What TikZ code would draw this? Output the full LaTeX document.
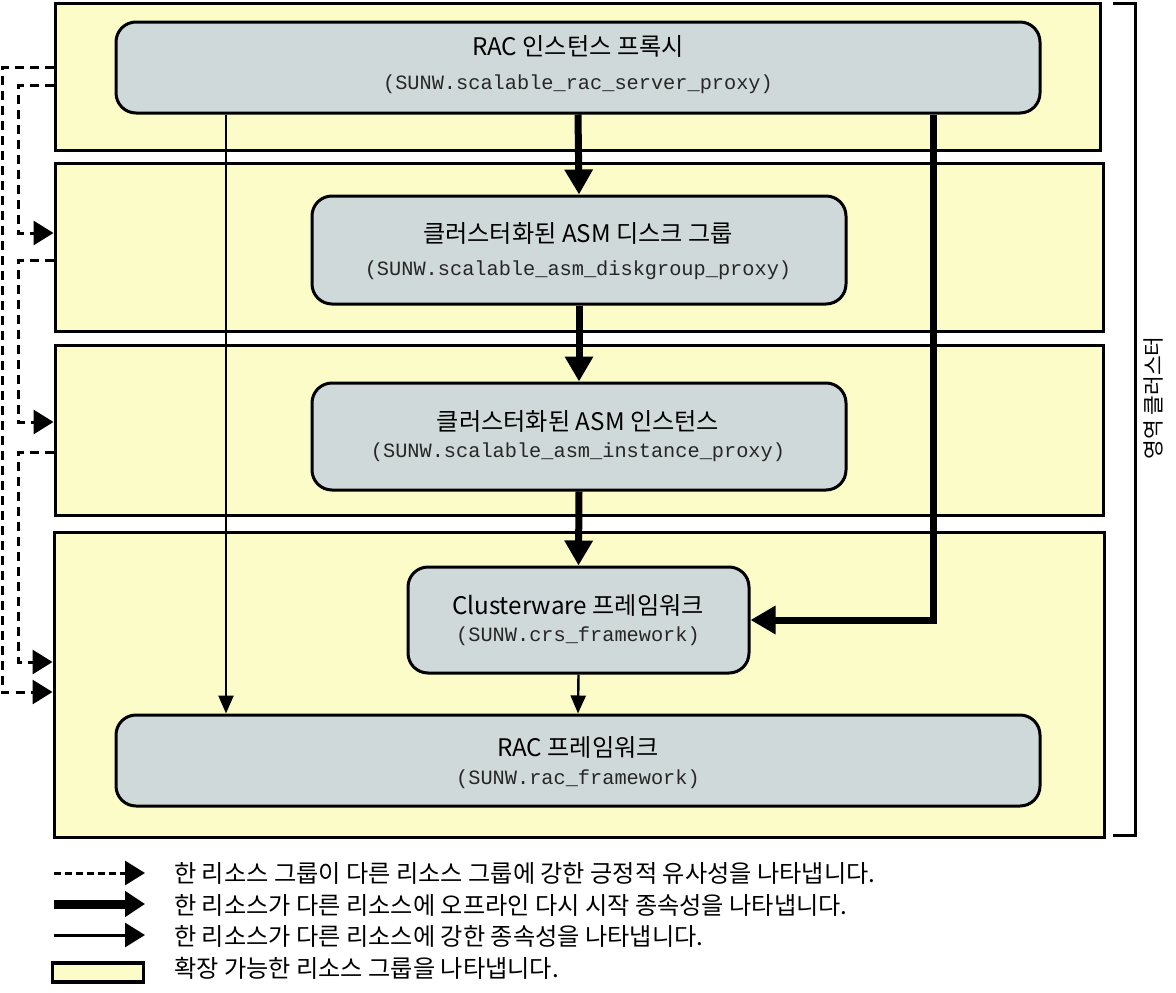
\documentclass[tikz,border=0pt]{standalone}
\usepackage{fontspec}
\setmainfont{Noto Sans CJK KR}
\newfontfamily\monof{Liberation Mono}
\usetikzlibrary{arrows.meta}
\definecolor{grpfill}{RGB}{252,252,200}
\definecolor{boxfill}{RGB}{208,217,217}
\tikzset{
  grp/.style={draw=black, line width=3pt, fill=grpfill, rectangle, inner sep=0pt},
  resbox/.style={draw=black, line width=3pt, fill=boxfill, rectangle, rounded corners=20pt, inner sep=0pt},
  ttl/.style={font=\fontsize{24.2pt}{28pt}\selectfont, inner sep=0pt},
  mtxt/.style={font=\monof\fontsize{20.3pt}{24pt}\selectfont, text=black!85, inner sep=0pt},
  lgtxt/.style={font=\fontsize{24.2pt}{28pt}\selectfont, inner sep=0pt, anchor=west},
  thickarr/.style={line width=7pt, -{Triangle[length=25pt,width=27pt]}},
  thinarr/.style={line width=2.4pt, -{Triangle[length=18pt,width=15pt]}},
  dasharr/.style={line width=3pt, dash pattern=on 9pt off 6pt, -{Triangle[length=20pt,width=24pt]}},
}
\begin{document}
\begin{tikzpicture}[x=1pt,y=-1pt]
\useasboundingbox (0,0) rectangle (1176,993);
\fill[white] (0,0) rectangle (1176,993);

% resource groups
\node[grp, minimum width=1045pt, minimum height=147pt] (g1) at (577.5,76.5) {};
\node[grp, minimum width=1048pt, minimum height=168pt] (g2) at (579,247) {};
\node[grp, minimum width=1048pt, minimum height=170pt] (g3) at (579,430) {};
\node[grp, minimum width=1050pt, minimum height=305pt] (g4) at (579,684.5) {};

% resources
\node[resbox, minimum width=924pt, minimum height=91pt] (b1) at (578,67.5) {};
\node[resbox, minimum width=534pt, minimum height=108pt] (b2) at (579,250) {};
\node[resbox, minimum width=534pt, minimum height=107pt] (b3) at (579,436.5) {};
\node[resbox, minimum width=341pt, minimum height=106pt] (b4) at (578.5,620) {};
\node[resbox, minimum width=924pt, minimum height=91pt] (b5) at (578,760.5) {};

% labels
\node[ttl] (t1) at (578,46) {RAC 인스턴스 프록시};
\node[mtxt] (m1) at (578,84) {(SUNW.scalable\_rac\_server\_proxy)};
\node[ttl] (t2) at (578,233) {클러스터화된 ASM 디스크 그룹};
\node[mtxt] (m2) at (578,270) {(SUNW.scalable\_asm\_diskgroup\_proxy)};
\node[ttl] (t3) at (578,421) {클러스터화된 ASM 인스턴스};
\node[mtxt] (m3) at (578,452) {(SUNW.scalable\_asm\_instance\_proxy)};
\node[ttl] (t4) at (578,605) {Clusterware 프레임워크};
\node[mtxt] (m4) at (578,636) {(SUNW.crs\_framework)};
\node[ttl] (t5) at (578,747) {RAC 프레임워크};
\node[mtxt] (m5) at (578,779) {(SUNW.rac\_framework)};

% helper coordinates
\coordinate (lx) at (226,0);
\coordinate (rx) at (933,0);
\coordinate (xo) at (2,0);
\coordinate (xi) at (18,0);
\coordinate (ya) at (0,67);
\coordinate (yb) at (0,85);
\coordinate (yc) at (0,233);
\coordinate (yd) at (0,260);
\coordinate (ye) at (0,422);
\coordinate (yf) at (0,452);
\coordinate (yg) at (0,662);
\coordinate (yh) at (0,692);

% dependencies
\draw[thickarr] (b1.south) -- (b2.north);
\draw[thickarr] (b2.south) -- (b3.north);
\draw[thickarr] (b3.south) -- (b4.north);
\draw[thickarr, line join=miter] (b1.south -| rx) |- (b4.east);
\draw[thinarr] (b1.south -| lx) -- (b5.north -| lx);
\draw[thinarr] (b4.south) -- (b5.north);

% affinities
\draw[dasharr] (g1.west |- ya) -- (xo |- ya) -- (xo |- yh) -- (g4.west |- yh);
\draw[dasharr] (g1.west |- yb) -- (xi |- yb) -- (xi |- yc) -- (g2.west |- yc);
\draw[dasharr] (g2.west |- yd) -- (xi |- yd) -- (xi |- ye) -- (g3.west |- ye);
\draw[dasharr] (g3.west |- yf) -- (xi |- yf) -- (xi |- yg) -- (g4.west |- yg);

% bracket
\coordinate (br1) at (1113,3);
\coordinate (br2) at (1135,3);
\coordinate (br3) at (1135,835);
\coordinate (br4) at (1113,835);
\draw[line width=3pt] (br1) -- (br2) -- (br3) -- (br4);
\node[font=\fontsize{21.5pt}{26pt}\selectfont, rotate=90, inner sep=0pt] (zc) at (1153,398) {영역 클러스터};

% legend
\coordinate (la1) at (54,873); \coordinate (la2) at (145,873);
\coordinate (lb1) at (54,904); \coordinate (lb2) at (145,904);
\coordinate (lc1) at (54,935); \coordinate (lc2) at (145,935);
\draw[line width=3pt, dash pattern=on 7pt off 4pt, -{Triangle[length=20pt,width=24pt]}] (la1) -- (la2);
\draw[line width=9pt, -{Triangle[length=20pt,width=25pt]}] (lb1) -- (lb2);
\draw[line width=3pt, -{Triangle[length=20pt,width=24pt]}] (lc1) -- (lc2);
\node[grp, line width=3.5pt, minimum width=91pt, minimum height=19pt] (lgbox) at (98,972.5) {};
\node[lgtxt] (lt1) at (174,873) {한 리소스 그룹이 다른 리소스 그룹에 강한 긍정적 유사성을 나타냅니다.};
\node[lgtxt] (lt2) at (174,905) {한 리소스가 다른 리소스에 오프라인 다시 시작 종속성을 나타냅니다.};
\node[lgtxt] (lt3) at (174,936) {한 리소스가 다른 리소스에 강한 종속성을 나타냅니다.};
\node[lgtxt] (lt4) at (174,968) {확장 가능한 리소스 그룹을 나타냅니다.};
\end{tikzpicture}
\end{document}
